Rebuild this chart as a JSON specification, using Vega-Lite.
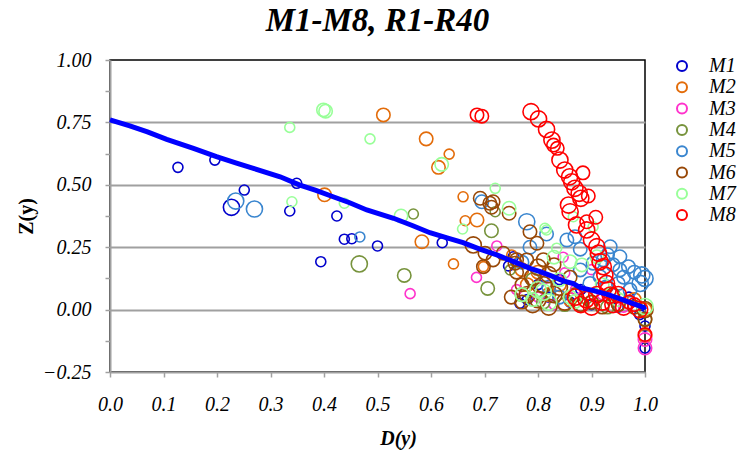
{
  "$schema": "https://vega.github.io/schema/vega-lite/v6.json",
  "autosize": "none",
  "width": 535,
  "height": 312,
  "padding": {"left": 110, "top": 60, "right": 94, "bottom": 83},
  "background": "#ffffff",
  "title": {"text": "M1-M8, R1-R40", "font": "Liberation Serif", "fontSize": 33, "fontWeight": "bold", "fontStyle": "italic", "anchor": "middle", "offset": 12, "color": "#000000"},
  "config": {"view": {"stroke": "#000000", "strokeWidth": 1.5}},
  "datasets": {
    "pts": [
      {"s":"M1","x":0.127,"y":0.570,"w":1},{"s":"M1","x":0.196,"y":0.599,"w":1},{"s":"M1","x":0.251,"y":0.479,"w":1},{"s":"M1","x":0.227,"y":0.410,"w":3},{"s":"M1","x":0.336,"y":0.395,"w":1},{"s":"M1","x":0.349,"y":0.506,"w":1},{"s":"M1","x":0.424,"y":0.375,"w":1},{"s":"M1","x":0.438,"y":0.282,"w":1},{"s":"M1","x":0.452,"y":0.284,"w":1},{"s":"M1","x":0.500,"y":0.255,"w":1},{"s":"M1","x":0.394,"y":0.192,"w":1},{"s":"M1","x":0.621,"y":0.268,"w":1},{"s":"M1","x":0.754,"y":0.212,"w":1},{"s":"M1","x":0.745,"y":0.175,"w":1},{"s":"M1","x":0.766,"y":0.025,"w":1},{"s":"M1","x":0.78,"y":0.04,"w":1},{"s":"M1","x":0.80,"y":0.10,"w":1},{"s":"M1","x":0.82,"y":0.05,"w":1},{"s":"M1","x":0.84,"y":0.12,"w":1},{"s":"M1","x":0.86,"y":0.03,"w":1},{"s":"M1","x":0.88,"y":0.08,"w":1},{"s":"M1","x":0.90,"y":0.02,"w":1},{"s":"M1","x":0.95,"y":0.01,"w":1},{"s":"M1","x":0.97,"y":0.05,"w":1},{"s":"M1","x":0.99,"y":-0.02,"w":1},{"s":"M1","x":1.0,"y":-0.066,"w":1},{"s":"M1","x":1.0,"y":-0.154,"w":1},
      {"s":"M2","x":0.511,"y":0.780,"w":2},{"s":"M2","x":0.591,"y":0.684,"w":2},{"s":"M2","x":0.634,"y":0.623,"w":1},{"s":"M2","x":0.614,"y":0.570,"w":2},{"s":"M2","x":0.401,"y":0.460,"w":2},{"s":"M2","x":0.583,"y":0.272,"w":2},{"s":"M2","x":0.642,"y":0.183,"w":1},{"s":"M2","x":0.660,"y":0.452,"w":1},{"s":"M2","x":0.664,"y":0.356,"w":1},{"s":"M2","x":0.686,"y":0.359,"w":2},{"s":"M2","x":0.698,"y":0.172,"w":1},{"s":"M2","x":0.751,"y":0.219,"w":1},{"s":"M2","x":0.77,"y":0.16,"w":2},{"s":"M2","x":0.78,"y":0.10,"w":2},{"s":"M2","x":0.80,"y":0.15,"w":2},{"s":"M2","x":0.82,"y":0.06,"w":2},{"s":"M2","x":0.84,"y":0.10,"w":2},{"s":"M2","x":0.86,"y":0.04,"w":2},{"s":"M2","x":0.90,"y":0.03,"w":2},{"s":"M2","x":0.95,"y":0.02,"w":2},{"s":"M2","x":0.98,"y":0.04,"w":2},{"s":"M2","x":1.0,"y":-0.106,"w":2},{"s":"M2","x":1.0,"y":0.0,"w":2},
      {"s":"M3","x":0.561,"y":0.064,"w":1},{"s":"M3","x":0.685,"y":0.129,"w":1},{"s":"M3","x":0.723,"y":0.255,"w":1},{"s":"M3","x":0.76,"y":0.08,"w":1},{"s":"M3","x":0.80,"y":0.05,"w":1},{"s":"M3","x":0.83,"y":0.02,"w":1},{"s":"M3","x":0.847,"y":0.21,"w":1},{"s":"M3","x":0.85,"y":0.147,"w":1},{"s":"M3","x":0.87,"y":0.08,"w":1},{"s":"M3","x":0.90,"y":0.16,"w":1},{"s":"M3","x":0.92,"y":0.06,"w":1},{"s":"M3","x":0.96,"y":0.01,"w":1},{"s":"M3","x":1.0,"y":-0.12,"w":2},{"s":"M3","x":1.0,"y":-0.154,"w":2},{"s":"M3","x":0.81,"y":0.12,"w":1},
      {"s":"M4","x":0.567,"y":0.383,"w":1},{"s":"M4","x":0.466,"y":0.183,"w":3},{"s":"M4","x":0.550,"y":0.137,"w":2},{"s":"M4","x":0.713,"y":0.316,"w":2},{"s":"M4","x":0.706,"y":0.085,"w":2},{"s":"M4","x":0.748,"y":0.159,"w":1},{"s":"M4","x":0.720,"y":0.392,"w":1},{"s":"M4","x":0.77,"y":0.06,"w":2},{"s":"M4","x":0.79,"y":0.12,"w":2},{"s":"M4","x":0.81,"y":0.03,"w":2},{"s":"M4","x":0.85,"y":0.02,"w":2},{"s":"M4","x":0.89,"y":0.05,"w":2},{"s":"M4","x":0.93,"y":0.01,"w":2},{"s":"M4","x":1.0,"y":-0.038,"w":2},
      {"s":"M5","x":0.235,"y":0.435,"w":3},{"s":"M5","x":0.270,"y":0.403,"w":3},{"s":"M5","x":0.467,"y":0.291,"w":1},{"s":"M5","x":0.695,"y":0.432,"w":2},{"s":"M5","x":0.779,"y":0.352,"w":3},{"s":"M5","x":0.816,"y":0.303,"w":2},{"s":"M5","x":0.785,"y":0.25,"w":2},{"s":"M5","x":0.77,"y":0.19,"w":2},{"s":"M5","x":0.854,"y":0.279,"w":2},{"s":"M5","x":0.879,"y":0.242,"w":2},{"s":"M5","x":0.869,"y":0.292,"w":2},{"s":"M5","x":0.903,"y":0.186,"w":2},{"s":"M5","x":0.922,"y":0.199,"w":2},{"s":"M5","x":0.935,"y":0.252,"w":2},{"s":"M5","x":0.953,"y":0.212,"w":2},{"s":"M5","x":0.969,"y":0.172,"w":2},{"s":"M5","x":0.994,"y":0.139,"w":3},{"s":"M5","x":1.0,"y":0.125,"w":3},{"s":"M5","x":0.991,"y":0.105,"w":3},{"s":"M5","x":0.953,"y":0.159,"w":2},{"s":"M5","x":0.95,"y":0.105,"w":2},{"s":"M5","x":0.916,"y":0.132,"w":2},{"s":"M5","x":0.928,"y":0.092,"w":2},{"s":"M5","x":0.972,"y":0.079,"w":2},{"s":"M5","x":0.897,"y":0.105,"w":2},{"s":"M5","x":0.879,"y":0.159,"w":2},{"s":"M5","x":0.93,"y":0.22,"w":2},{"s":"M5","x":0.94,"y":0.18,"w":2},{"s":"M5","x":0.96,"y":0.13,"w":2},{"s":"M5","x":0.98,"y":0.15,"w":2},{"s":"M5","x":0.82,"y":0.09,"w":2},{"s":"M5","x":0.84,"y":0.05,"w":2},
      {"s":"M6","x":0.692,"y":0.446,"w":2},{"s":"M6","x":0.710,"y":0.426,"w":2},{"s":"M6","x":0.716,"y":0.432,"w":2},{"s":"M6","x":0.713,"y":0.41,"w":2},{"s":"M6","x":0.746,"y":0.386,"w":2},{"s":"M6","x":0.785,"y":0.312,"w":2},{"s":"M6","x":0.798,"y":0.266,"w":2},{"s":"M6","x":0.679,"y":0.259,"w":3},{"s":"M6","x":0.701,"y":0.226,"w":2},{"s":"M6","x":0.735,"y":0.226,"w":2},{"s":"M6","x":0.716,"y":0.199,"w":2},{"s":"M6","x":0.698,"y":0.172,"w":2},{"s":"M6","x":0.757,"y":0.186,"w":2},{"s":"M6","x":0.779,"y":0.199,"w":2},{"s":"M6","x":0.76,"y":0.15,"w":2},{"s":"M6","x":0.77,"y":0.10,"w":2},{"s":"M6","x":0.78,"y":0.06,"w":3},{"s":"M6","x":0.79,"y":0.13,"w":3},{"s":"M6","x":0.80,"y":0.17,"w":3},{"s":"M6","x":0.81,"y":0.10,"w":3},{"s":"M6","x":0.80,"y":0.04,"w":3},{"s":"M6","x":0.82,"y":0.14,"w":3},{"s":"M6","x":0.83,"y":0.06,"w":3},{"s":"M6","x":0.84,"y":0.09,"w":3},{"s":"M6","x":0.85,"y":0.03,"w":3},{"s":"M6","x":0.82,"y":0.01,"w":3},{"s":"M6","x":0.79,"y":0.02,"w":3},{"s":"M6","x":0.77,"y":0.03,"w":2},{"s":"M6","x":0.86,"y":0.13,"w":2},{"s":"M6","x":0.87,"y":0.06,"w":2},{"s":"M6","x":0.88,"y":0.02,"w":2},{"s":"M6","x":0.81,"y":0.20,"w":2},{"s":"M6","x":0.83,"y":0.18,"w":2},{"s":"M6","x":0.75,"y":0.05,"w":2},{"s":"M6","x":0.76,"y":0.20,"w":2},{"s":"M6","x":0.90,"y":0.03,"w":2},{"s":"M6","x":0.92,"y":0.01,"w":2},{"s":"M6","x":0.95,"y":0.02,"w":2},{"s":"M6","x":0.98,"y":0.01,"w":2},{"s":"M6","x":1.0,"y":0.0,"w":3},{"s":"M6","x":1.0,"y":-0.04,"w":2},{"s":"M6","x":0.94,"y":0.06,"w":2},
      {"s":"M7","x":0.336,"y":0.730,"w":1},{"s":"M7","x":0.399,"y":0.800,"w":2},{"s":"M7","x":0.403,"y":0.795,"w":2},{"s":"M7","x":0.486,"y":0.684,"w":1},{"s":"M7","x":0.620,"y":0.582,"w":2},{"s":"M7","x":0.340,"y":0.432,"w":1},{"s":"M7","x":0.438,"y":0.426,"w":1},{"s":"M7","x":0.544,"y":0.375,"w":2},{"s":"M7","x":0.659,"y":0.323,"w":1},{"s":"M7","x":0.720,"y":0.486,"w":1},{"s":"M7","x":0.746,"y":0.406,"w":2},{"s":"M7","x":0.813,"y":0.326,"w":1},{"s":"M7","x":0.816,"y":0.319,"w":1},{"s":"M7","x":0.835,"y":0.246,"w":1},{"s":"M7","x":0.866,"y":0.372,"w":1},{"s":"M7","x":0.903,"y":0.332,"w":1},{"s":"M7","x":0.86,"y":0.192,"w":2},{"s":"M7","x":0.882,"y":0.179,"w":2},{"s":"M7","x":0.91,"y":0.212,"w":2},{"s":"M7","x":0.869,"y":0.032,"w":2},{"s":"M7","x":0.81,"y":0.07,"w":3},{"s":"M7","x":0.82,"y":0.03,"w":3},{"s":"M7","x":0.86,"y":0.05,"w":2},{"s":"M7","x":0.83,"y":0.21,"w":2},{"s":"M7","x":0.84,"y":0.12,"w":2},{"s":"M7","x":0.80,"y":0.08,"w":3},{"s":"M7","x":0.77,"y":0.06,"w":2},{"s":"M7","x":0.79,"y":0.04,"w":2},{"s":"M7","x":1.0,"y":0.012,"w":3},{"s":"M7","x":0.95,"y":0.04,"w":2},{"s":"M7","x":0.92,"y":0.10,"w":2},
      {"s":"M8","x":0.686,"y":0.780,"w":2},{"s":"M8","x":0.695,"y":0.775,"w":2},{"s":"M8","x":0.787,"y":0.793,"w":3},{"s":"M8","x":0.801,"y":0.764,"w":3},{"s":"M8","x":0.816,"y":0.722,"w":3},{"s":"M8","x":0.826,"y":0.679,"w":3},{"s":"M8","x":0.829,"y":0.659,"w":2},{"s":"M8","x":0.836,"y":0.646,"w":2},{"s":"M8","x":0.841,"y":0.599,"w":3},{"s":"M8","x":0.850,"y":0.559,"w":3},{"s":"M8","x":0.859,"y":0.532,"w":3},{"s":"M8","x":0.884,"y":0.548,"w":2},{"s":"M8","x":0.863,"y":0.512,"w":3},{"s":"M8","x":0.869,"y":0.486,"w":3},{"s":"M8","x":0.877,"y":0.466,"w":3},{"s":"M8","x":0.894,"y":0.455,"w":2},{"s":"M8","x":0.880,"y":0.446,"w":3},{"s":"M8","x":0.857,"y":0.419,"w":3},{"s":"M8","x":0.860,"y":0.392,"w":3},{"s":"M8","x":0.891,"y":0.352,"w":2},{"s":"M8","x":0.908,"y":0.370,"w":2},{"s":"M8","x":0.872,"y":0.339,"w":3},{"s":"M8","x":0.891,"y":0.319,"w":3},{"s":"M8","x":0.900,"y":0.279,"w":3},{"s":"M8","x":0.910,"y":0.252,"w":3},{"s":"M8","x":0.913,"y":0.226,"w":3},{"s":"M8","x":0.916,"y":0.192,"w":3},{"s":"M8","x":0.922,"y":0.172,"w":3},{"s":"M8","x":0.925,"y":0.139,"w":3},{"s":"M8","x":0.928,"y":0.105,"w":3},{"s":"M8","x":0.931,"y":0.079,"w":3},{"s":"M8","x":0.935,"y":0.058,"w":3},{"s":"M8","x":0.88,"y":0.02,"w":3},{"s":"M8","x":0.89,"y":0.04,"w":3},{"s":"M8","x":0.90,"y":0.01,"w":3},{"s":"M8","x":0.92,"y":0.03,"w":3},{"s":"M8","x":0.94,"y":0.02,"w":3},{"s":"M8","x":0.96,"y":0.01,"w":3},{"s":"M8","x":0.97,"y":0.03,"w":2},{"s":"M8","x":0.95,"y":0.06,"w":3},{"s":"M8","x":0.98,"y":0.02,"w":2},{"s":"M8","x":0.91,"y":0.06,"w":3},{"s":"M8","x":0.87,"y":0.05,"w":3},{"s":"M8","x":1.0,"y":-0.1,"w":2},{"s":"M8","x":0.99,"y":0.0,"w":3}
    ],
    "curve": [
      {"x":0.0,"y":0.760},{"x":0.037,"y":0.736},{"x":0.07,"y":0.712},{"x":0.106,"y":0.682},{"x":0.156,"y":0.646},{"x":0.199,"y":0.613},{"x":0.235,"y":0.588},{"x":0.268,"y":0.566},{"x":0.318,"y":0.532},{"x":0.355,"y":0.499},{"x":0.385,"y":0.478},{"x":0.417,"y":0.452},{"x":0.448,"y":0.428},{"x":0.48,"y":0.399},{"x":0.53,"y":0.366},{"x":0.565,"y":0.337},{"x":0.598,"y":0.308},{"x":0.63,"y":0.287},{"x":0.66,"y":0.268},{"x":0.69,"y":0.243},{"x":0.723,"y":0.219},{"x":0.755,"y":0.192},{"x":0.785,"y":0.165},{"x":0.804,"y":0.152},{"x":0.826,"y":0.134},{"x":0.847,"y":0.115},{"x":0.866,"y":0.104},{"x":0.879,"y":0.088},{"x":0.9,"y":0.078},{"x":0.928,"y":0.062},{"x":0.95,"y":0.046},{"x":0.97,"y":0.03},{"x":0.997,"y":0.009},{"x":1.0,"y":0.0}
    ]
  },
  "encoding": {
    "x": {"field": "x", "type": "quantitative", "scale": {"domain": [0, 1], "nice": false, "zero": false},
      "axis": {"title": "D(y)", "values": [0,0.1,0.2,0.3,0.4,0.5,0.6,0.7,0.8,0.9,1.0], "format": ".1f", "grid": false,
        "domainColor": "#A0A0A0", "domainWidth": 2, "tickColor": "#A0A0A0", "tickSize": 5, "tickWidth": 1.5,
        "labelFont": "Liberation Serif", "labelFontStyle": "italic", "labelFontSize": 20, "labelColor": "#000000", "labelPadding": 17,
        "labelFlush": false, "labelOverlap": false, "labelBound": false,
        "titleFont": "Liberation Serif", "titleFontStyle": "italic", "titleFontWeight": "bold", "titleFontSize": 20, "titleColor": "#000000",
        "titleX": 288, "titleY": 66, "titleBaseline": "middle", "titleAlign": "center"}},
    "y": {"field": "y", "type": "quantitative", "scale": {"domain": [-0.25, 1], "nice": false, "zero": false},
      "axis": {"title": "Z(y)", "values": [-0.25,-0.125,0,0.125,0.25,0.375,0.5,0.625,0.75,0.875,1.0],
        "labelExpr": "abs(datum.value*4 - round(datum.value*4)) > 0.01 ? '' : format(datum.value, '.2f')",
        "gridColor": "#A0A0A0", "gridWidth": 2,
        "gridOpacity": {"condition": {"test": "abs(datum.value*4 - round(datum.value*4)) > 0.01 || datum.value > 0.99 || datum.value < -0.24", "value": 0}, "value": 1},
        "domainColor": "#A0A0A0", "domainWidth": 2, "tickColor": "#A0A0A0", "tickSize": 5, "tickWidth": 1.5,
        "labelFont": "Liberation Serif", "labelFontStyle": "italic", "labelFontSize": 20, "labelColor": "#000000", "labelPadding": 14,
        "labelOverlap": false, "labelBound": false, "labelFlush": false,
        "titleFont": "Liberation Serif", "titleFontStyle": "normal", "titleFontWeight": "bold", "titleFontSize": 20, "titleColor": "#000000",
        "titleX": -84, "titleY": 156, "titleAngle": -90, "titleBaseline": "middle", "titleAlign": "center"}}
  },
  "layer": [
    {
      "data": {"name": "pts"},
      "mark": {"type": "point", "filled": false, "strokeWidth": 1.6, "opacity": 1, "clip": false},
      "encoding": {
        "color": {"field": "s", "type": "nominal",
          "scale": {"domain": ["M1","M2","M3","M4","M5","M6","M7","M8"], "range": ["#0000CC","#E36C0A","#FF33CC","#77933C","#3A86CF","#984807","#99FF99","#FF0000"]},
          "legend": {"orient": "none", "legendX": 562, "legendY": -4, "title": null, "symbolType": "circle", "symbolSize": 100, "symbolStrokeWidth": 2,
            "labelFont": "Liberation Serif", "labelFontStyle": "italic", "labelFontSize": 20, "labelColor": "#000000", "rowPadding": 1.3, "labelOffset": 17}},
        "size": {"field": "w", "type": "quantitative", "scale": {"domain": [1, 3], "range": [100, 260]}, "legend": null}
      }
    },
    {
      "data": {"name": "curve"},
      "mark": {"type": "line", "color": "#0000FF", "strokeWidth": 5},
      "encoding": {}
    }
  ]
}
